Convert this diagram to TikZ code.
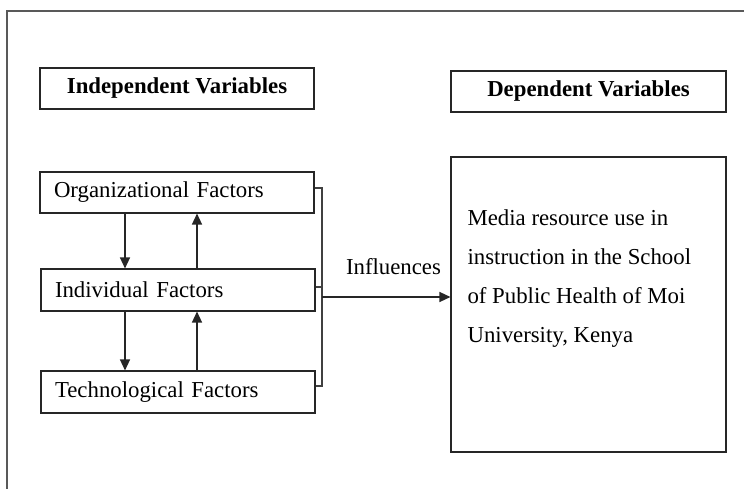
\documentclass[tikz,border=0pt]{standalone}
\usepackage{fontspec}
\setmainfont{Liberation Serif}
\usetikzlibrary{arrows.meta,calc}
\begin{document}
\begin{tikzpicture}[x=1pt,y=-1pt,
  line width=1.1pt,
  txt/.style={font=\fontsize{22.8}{27}\selectfont},
  factorbox/.style={draw=black!85, txt, minimum height=41pt, text width=246pt, inner xsep=14pt, inner ysep=0pt, align=left},
  titlebox/.style={draw=black!85, font=\fontsize{22.8}{27}\selectfont\bfseries, minimum height=41pt, minimum width=274pt, inner sep=0pt},
  arr/.style={draw=black!85, line width=1.4pt, -{Triangle[length=11pt,width=10pt]}},
  link/.style={draw=black!75, line width=1.1pt}
]
\useasboundingbox (0,0) rectangle (744,489);
\draw[black!65, line width=1.6pt] (750,11) -- (7,11) -- (7,495);

\node[titlebox] (indep) at (177,88.5) {Independent Variables};
\node[titlebox, minimum width=275pt] (deptitle) at (588.5,91.5) {Dependent Variables};

\node[factorbox] (org) at (177,192.5) {Organizational Factors};
\node[factorbox, minimum height=42pt] (ind) at (178,290) {Individual Factors};
\node[factorbox, minimum height=42pt] (tech) at (178,392) {Technological Factors};

\node[draw=black!85, minimum width=275pt, minimum height=295pt, inner sep=0pt] (dep) at (588.5,304.5) {};
\node[anchor=west, inner sep=0pt, align=left, font=\fontsize{22.8}{39}\selectfont] (deptext) at (467,279)
  {Media resource use in\\instruction in the School\\of Public Health of Moi\\University, Kenya};

\coordinate (dx) at (125,0);
\coordinate (ux) at (197,0);
\draw[arr] (org.south -| dx) -- (ind.north -| dx);
\draw[arr] (ind.north -| ux) -- (org.south -| ux);
\draw[arr] (ind.south -| dx) -- (tech.north -| dx);
\draw[arr] (tech.north -| ux) -- (ind.south -| ux);

\coordinate (b1) at (322,188);
\coordinate (b2) at (322,287);
\coordinate (b3) at (322,386);
\coordinate (bm) at (322,297);
\draw[link] (org.east |- b1) -- (b1) -- (b3) -- (tech.east |- b3);
\draw[link] (ind.east |- b2) -- (b2);
\draw[arr] (bm) -- (dep.west |- bm);

\node[txt, inner sep=0pt] (infl) at (393.5,267) {Influences};
\end{tikzpicture}
\end{document}
